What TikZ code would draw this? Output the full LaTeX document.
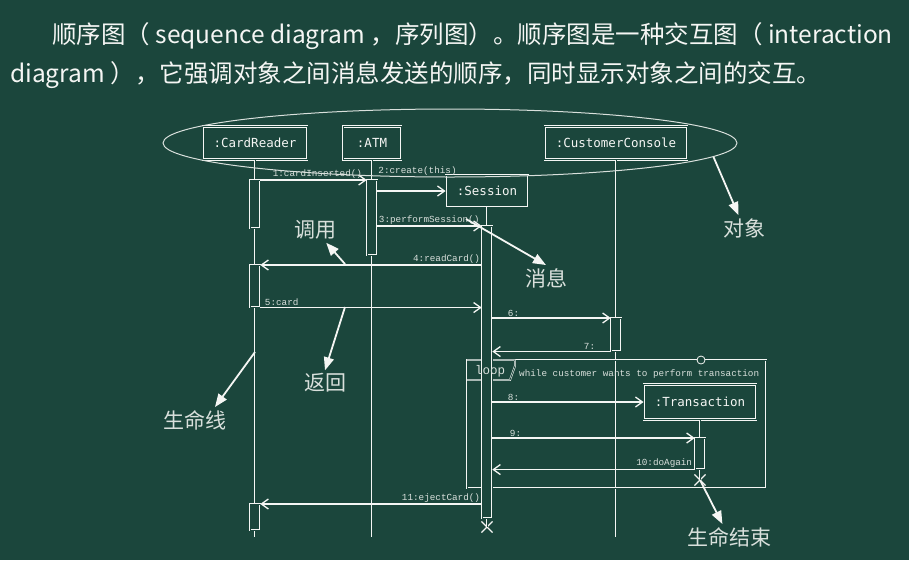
\documentclass[tikz,border=0pt]{standalone}
\usepackage{fontspec}
\usepackage{xcolor}
\usepackage{tikz}
\usetikzlibrary{arrows.meta,positioning,calc,shapes.geometric,shapes.misc}
\setmainfont{Noto Sans CJK SC}
\newfontfamily\SeqHeadFont{DejaVu Sans Mono}
\newfontfamily\SeqMsgFont{Liberation Mono}
\definecolor{BoardGreen}{HTML}{1B463C}
\definecolor{ChalkWhite}{HTML}{F5F6F4}
\definecolor{ChalkSoft}{HTML}{D9E0DC}

\begin{document}
\begin{tikzpicture}[x=1pt,y=-1pt,>=Latex,
  objbox/.style={draw=ChalkWhite,double=BoardGreen,double distance=0.9pt,line width=0.6pt,
    fill=BoardGreen,text=ChalkWhite,minimum height=33pt,inner xsep=11pt,
    font=\SeqHeadFont\fontsize{12.5pt}{14pt}\selectfont},
  actbar/.style={draw=ChalkWhite,double=BoardGreen,double distance=0.8pt,line width=0.55pt,
    fill=BoardGreen,minimum width=10pt,inner sep=0pt,anchor=north},
  lifeline/.style={draw=ChalkWhite,double=BoardGreen,double distance=0.8pt,line width=0.55pt},
  frameline/.style={draw=ChalkWhite,double=BoardGreen,double distance=0.8pt,line width=0.55pt},
  killmark/.style={draw=ChalkWhite,cross out,minimum size=10pt,inner sep=0pt,line width=1.1pt},
  msg/.style={draw=ChalkWhite,line width=1.3pt,-{Straight Barb[length=7pt,width=10pt]}},
  msglabel/.style={text=ChalkSoft,inner sep=1pt,font=\SeqMsgFont\fontsize{9.3pt}{11pt}\selectfont},
  notearrow/.style={draw=ChalkWhite,line width=1.8pt,-{Triangle[length=13pt,width=10pt]}},
  notelabel/.style={text=ChalkSoft,inner sep=3pt,font=\fontsize{21pt}{24pt}\selectfont},
  titletext/.style={text=ChalkWhite,inner sep=0pt,font=\fontsize{24.5pt}{28pt}\selectfont}]
  \fill[BoardGreen] (0,0) rectangle (909,560);
  \useasboundingbox (0,0) rectangle (909,560);

  % title
  \node[titletext,anchor=base west] (title1) at (52,43)
    {顺序图（ sequence diagram ，序列图）。顺序图是一种交互图（ interaction};
  \node[titletext,anchor=base west] (title2) at (10,82)
    {diagram ），它强调对象之间消息发送的顺序，同时显示对象之间的交互。};

  % objects and lifelines
  \node[objbox] (cr) at (255,143) {:CardReader};
  \node[objbox,minimum width=58pt] (atm) at (372,143) {:ATM};
  \node[objbox] (cc) at (616,143) {:CustomerConsole};
  \node[objbox,minimum height=32pt] (sess) at (487,191) {:Session};
  \node[objbox,minimum height=35pt] (trans) at (700,402) {:Transaction};
  \coordinate (bottom) at (0,537);
  \node[killmark] (sessX) at (487,527) {};
  \node[killmark] (transX) at (700,480) {};

  \draw[lifeline] (cr.south) -- (cr.south |- bottom);
  \draw[lifeline] (atm.south) -- (atm.south |- bottom);
  \draw[lifeline] (cc.south) -- (cc.south |- bottom);
  \draw[lifeline] (sess.south) -- (sessX.center);
  \draw[lifeline] (trans.south) -- (transX.center);

  % loop fragment
  \node[frameline,minimum width=299pt,minimum height=128pt,anchor=north west,inner sep=0pt] (loopfr) at (467,360) {};
  \draw[frameline] (loopfr.north west) -- ++(48,0) -- ++(0,6) -- ++(-5,14) -- (loopfr.north west |- 0,380);
  \node[draw=ChalkWhite,circle,line width=0.8pt,minimum size=8pt,inner sep=0pt,fill=BoardGreen] (grip) at (701,360) {};

  % activations
  \node[actbar,minimum height=48pt] (crA1) at (255,180) {};
  \node[actbar,minimum height=42pt] (crA2) at (255,265) {};
  \node[actbar,minimum height=26pt] (crA3) at (255,504) {};
  \node[actbar,minimum height=75pt] (atmA) at (372,180) {};
  \node[actbar,minimum height=292pt] (sessA) at (487,226) {};
  \node[actbar,minimum height=33pt] (ccA) at (616,318) {};
  \node[actbar,minimum height=31pt] (trA) at (700,438) {};

  \node[msglabel,font=\SeqMsgFont\fontsize{12.5pt}{14pt}\selectfont] (looptag) at (490,371) {loop};
  \node[msglabel,anchor=west] (guard) at (518,374) {while customer wants to perform transaction};

  % messages
  \draw[msg] (crA1.north east) -- (atmA.north west)
    node[msglabel,pos=1,above left,xshift=-3pt] {1:cardInserted()};
  \draw[msg] (sess.west -| atmA.east) -- (sess.west);
  \node[msglabel,anchor=south west] (createlbl) at ([yshift=3pt]atmA.north east) {2:create(this)};
  \draw[msg] (sessA.north west -| atmA.east) -- (sessA.north west)
    node[msglabel,pos=0,above right] {3:performSession()};
  \draw[msg] (crA2.north east -| sessA.west) -- (crA2.north east)
    node[msglabel,pos=0,above left] {4:readCard()};
  \draw[msg] (crA2.south east) -- (crA2.south east -| sessA.west)
    node[msglabel,pos=0,above right,xshift=3pt] {5:card};
  \draw[msg] (ccA.north west -| sessA.east) -- (ccA.north west)
    node[msglabel,pos=0,above right,xshift=14pt] {6:};
  \draw[msg] (ccA.south west) -- (ccA.south west -| sessA.east)
    node[msglabel,pos=0,above left,xshift=-14pt] {7:};
  \draw[msg] (trans.west -| sessA.east) -- (trans.west)
    node[msglabel,pos=0,above right,xshift=14pt] {8:};
  \draw[msg] (trA.north west -| sessA.east) -- (trA.north west)
    node[msglabel,pos=0,above right,xshift=16pt] {9:};
  \draw[msg] (trA.south west) -- (trA.south west -| sessA.east)
    node[msglabel,pos=0,above left,xshift=-1pt] {10:doAgain};
  \draw[msg] (crA3.north east -| sessA.west) -- (crA3.north east)
    node[msglabel,pos=0,above left] {11:ejectCard()};

  % annotations
  \node[ellipse,draw=ChalkSoft,line width=1pt,minimum width=574pt,minimum height=68pt,inner sep=0pt] (heads) at (450,143) {};
  \node[notelabel] (objnote) at (744,228) {对象};
  \node[notelabel] (callnote) at (315,230) {调用};
  \node[notelabel] (msgnote) at (546,278) {消息};
  \node[notelabel] (retnote) at (325,383) {返回};
  \node[notelabel] (lifenote) at (195,420) {生命线};
  \node[notelabel] (endnote) at (729,537) {生命结束};
  \coordinate (callpt) at (345,264);
  \coordinate (msgpt) at (466,219);
  \coordinate (retpt) at (345,307);
  \coordinate (lifept) at (255,352);
  \draw[notearrow] (heads.-3.5) -- (objnote);
  \draw[notearrow] (callpt) -- (callnote);
  \draw[notearrow] (msgpt) -- (msgnote.north);
  \draw[notearrow] (retpt) -- (retnote.north);
  \draw[notearrow] (lifept) -- ([xshift=20pt]lifenote.north);
  \draw[notearrow] (transX.center) -- (endnote);
\end{tikzpicture}
\end{document}
